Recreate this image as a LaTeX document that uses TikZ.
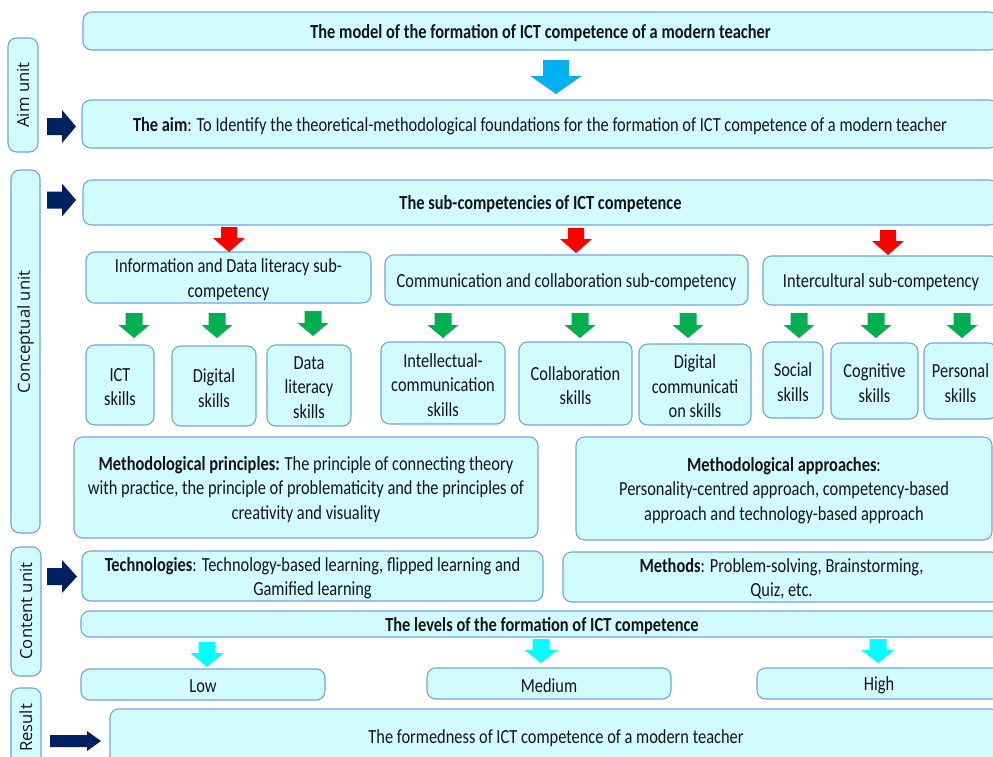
\documentclass[tikz,border=0pt]{standalone}
\usepackage{fontspec}
\setmainfont{Carlito}[FakeStretch=0.82]
\newfontfamily\sidefont{Open Sans}
\usetikzlibrary{fit}
\definecolor{boxfill}{RGB}{210,251,255}
\definecolor{boxline}{RGB}{110,165,225}
\definecolor{navy}{RGB}{0,32,96}
\definecolor{redarr}{RGB}{255,0,0}
\definecolor{greenarr}{RGB}{0,176,80}
\definecolor{bluearr}{RGB}{0,176,240}
\definecolor{cyanarr}{RGB}{0,255,255}
\definecolor{txt}{RGB}{20,20,20}
% down block arrow: color, cx, top, headstart, tip, half shaft, half head
\newcommand\dnarr[7]{\fill[#1] (#2-#6,#3) -- (#2+#6,#3) -- (#2+#6,#4) -- (#2+#7,#4) -- (#2,#5) -- (#2-#7,#4) -- (#2-#6,#4) -- cycle;}
% right block arrow: color, cy, left, headstart, tip, half shaft, half head
\newcommand\rtarr[7]{\fill[#1] (#3,#2-#6) -- (#4,#2-#6) -- (#4,#2-#7) -- (#5,#2) -- (#4,#2+#7) -- (#4,#2+#6) -- (#3,#2+#6) -- cycle;}
% box: name, x1, y1, x2, y2, text
\newcommand\bx[6]{\node[box, fit={(#2,#3) (#4,#5)}] (#1) {};
  \node[boxtext] (#1t) at (#1.center) {#6};}
\begin{document}
\begin{tikzpicture}[x=0.75pt,y=-0.75pt,
  box/.style={draw=boxline, fill=boxfill, rounded corners=6.5pt, line width=0.8pt, inner sep=0pt},
  boxtext/.style={align=center, text=txt, inner sep=0pt, yshift=-1.5pt,
    font=\fontsize{15}{18.4}\selectfont},
  sidetext/.style={rotate=90, text=txt, font=\sidefont\fontsize{12.5}{14}\selectfont}]
\useasboundingbox (0,0) rectangle (993,757);
\clip (0,0) rectangle (993,757);

% side unit boxes
\node[box, fit={(8,38) (38,152)}] (aimunit) {};
\node[sidetext] (aimunitt) at (23,95) {Aim unit};
\node[box, fit={(11,170) (40,533)}] (concunit) {};
\node[sidetext] (concunitt) at (25.5,332) {Conceptual unit};
\node[box, fit={(11,547) (41,676)}] (contunit) {};
\node[sidetext] (contunitt) at (26,611) {Content unit};
\node[box, fit={(11,688) (41,775)}] (resunit) {};
\node[sidetext] (resunitt) at (26,728) {Result};

% main boxes
\bx{title}{83}{12}{998}{50}{\bfseries The model of the formation of ICT competence of a modern teacher}
\bx{aim}{82}{100}{998}{148}{\textbf{The aim}: To Identify the theoretical-methodological foundations for the formation of ICT competence of a modern teacher}
\bx{sub}{83}{180}{998}{225}{\bfseries The sub-competencies of ICT competence}

\bx{info}{86}{252}{371}{303}{Information and Data literacy sub-\\competency}
\bx{comm}{385}{255}{748}{305}{Communication and collaboration sub-competency}
\bx{inter}{763}{256}{999}{305}{Intercultural sub-competency}

\bx{s1}{86}{345}{154}{425}{ICT\\skills}
\bx{s2}{172}{346}{256}{426}{Digital\\skills}
\bx{s3}{267}{345}{351}{426}{Data\\literacy\\skills}
\bx{s4}{381}{342}{505}{424}{Intellectual-\\communication\\skills}
\bx{s5}{519}{342}{632}{425}{Collaboration\\skills}
\bx{s6}{639}{344}{751}{425}{Digital\\communicati\\on skills}
\bx{s7}{763}{342}{823}{418}{Social\\skills}
\bx{s8}{831}{343}{918}{419}{Cognitive\\skills}
\bx{s9}{924}{343}{997}{419}{Personal\\skills}

\bx{mp}{74}{437}{538}{538}{\textbf{Methodological principles:} The principle of connecting theory\\with practice, the principle of problematicity and the principles of\\creativity and visuality}
\bx{ma}{576}{437}{992}{540}{\textbf{Methodological approaches}:\\Personality-centred approach, competency-based\\approach and technology-based approach}

\bx{tech}{82}{551}{543}{601}{\textbf{Technologies}: Technology-based learning, flipped learning and\\Gamified learning}
\bx{meth}{563}{552}{1000}{602}{\textbf{Methods}: Problem-solving, Brainstorming,\\Quiz, etc.}
\bx{levels}{81}{611}{1003}{637}{\bfseries The levels of the formation of ICT competence}

\bx{low}{81}{669}{325}{700}{Low}
\bx{med}{427}{668}{671}{699}{Medium}
\bx{high}{757}{668}{1001}{699}{High}
\node[box, fit={(110,709) (1000,775)}] (res) {};
\node[boxtext] (rest) at (556,736) {The formedness of ICT competence of a modern teacher};

% block arrows
\dnarr{bluearr}{556}{60}{76}{94}{13}{25.5}
\rtarr{navy}{126.5}{47}{62}{76}{8.5}{16.5}
\rtarr{navy}{200}{47}{62}{76}{8.5}{16.5}
\rtarr{navy}{576.5}{47}{62}{77}{8.5}{16.5}
\rtarr{navy}{741}{50}{87}{101}{6}{10}

\dnarr{redarr}{229}{227}{238}{252}{8}{16}
\dnarr{redarr}{576}{228}{239}{253}{8}{16}
\dnarr{redarr}{888}{230}{241}{255}{8}{16}

\foreach \gx/\gt in {134/313,217/313,313/311,443/313,580/313,688/313,799/313,876/313,962/313}{
  \dnarr{greenarr}{\gx}{\gt}{\gt+12}{\gt+25}{8.5}{15.5}
}

\dnarr{cyanarr}{207}{642}{653}{667}{8.5}{16.5}
\dnarr{cyanarr}{541}{639}{650}{663}{8.5}{16.5}
\dnarr{cyanarr}{878}{639}{650}{663}{8.5}{16.5}
\end{tikzpicture}
\end{document}
